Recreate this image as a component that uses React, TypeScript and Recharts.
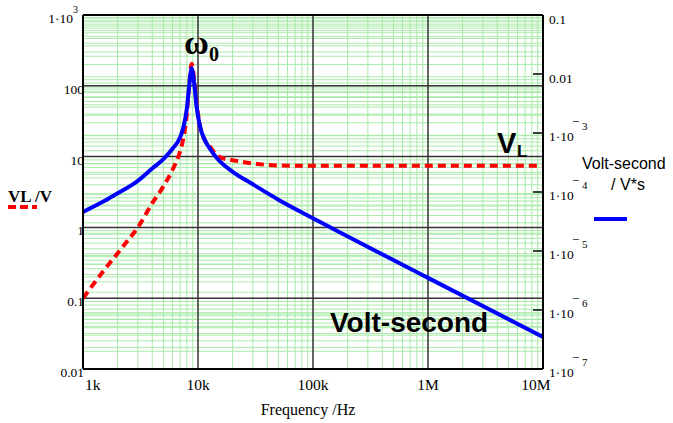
import React from 'react';
import { ComposedChart, Line, XAxis, YAxis, ReferenceLine } from 'recharts';

// frequency points (Hz)
const freqs = [
  1000, 1500, 2000, 2500, 3000, 4000, 5000, 6000, 7000, 7500, 8000, 8400, 8800, 9300, 9700, 10400, 11500,
  12700, 14500, 17000, 20000, 30000, 50000, 100000, 1000000, 10000000,
];
// VL / V (left axis)
const vlValues = [
  0.1, 0.24, 0.43, 0.68, 1.0, 2.2, 3.8, 6.5, 12, 19, 40, 105, 205, 115, 60, 27, 17,
  13.8, 10.5, 9.3, 8.9, 8.0, 7.5, 7.4, 7.4, 7.4,
];
// Volt-second / V*s (right axis)
const vsValues = [
  4.6e-5, 6.9e-5, 9.5e-5, 1.22e-4, 1.55e-4, 2.5e-4, 3.6e-4, 5.4e-4, 8.5e-4, 1.3e-3, 2.6e-3, 6.5e-3, 1.25e-2, 6.5e-3, 2.9e-3, 1.3e-3, 7.5e-4,
  5.4e-4, 3.8e-4, 2.8e-4, 2.2e-4, 1.35e-4, 7.4e-5, 3.6e-5, 3.5e-6, 3.5e-7,
];

const xTicks = [1e3, 1e4, 1e5, 1e6, 1e7];
const xTickLabels = ['1k', '10k', '100k', '1M', '10M'];
const leftTicks = [0.01, 0.1, 1, 10, 100, 1000];
const leftTickLabels = ['0.01', '0.1', '1', '10', '100', '1·10'];
const leftTickExp = ['', '', '', '', '', '3'];
const rightTicks = [1e-7, 1e-6, 1e-5, 1e-4, 1e-3, 0.01, 0.1];
const rightTickLabels = ['1·10', '1·10', '1·10', '1·10', '1·10', '0.01', '0.1'];
const rightTickExp = ['7', '6', '5', '4', '3', '', ''];
const minorSteps = [2, 3, 4, 5, 6, 7, 8, 9];

const data = freqs.map((f, i) => ({ f, vl: vlValues[i], vs: vsValues[i] }));

const minorsOf = (decades: number[]) =>
  decades.slice(0, -1).flatMap((d) => minorSteps.map((m) => d * m));

const xMinor = minorsOf(xTicks);
const leftMinor = minorsOf(leftTicks);
const rightMinor = minorsOf(rightTicks);

const SERIF = '"Liberation Serif", "Times New Roman", serif';
const SANS = '"Liberation Sans", Arial, sans-serif';
const GREEN = '#a9eaa9';
const DARK = '#333';

const W = 673;
const H = 423;

function renderXTick({ x, y, payload }: any) {
  const i = xTicks.indexOf(payload.value);
  const first = i === 0;
  const last = i === xTicks.length - 1;
  return (
    <text
      key={'xt' + i}
      x={first ? x + 2 : last ? x - 7 : x}
      y={y + 21}
      textAnchor={first ? 'start' : 'middle'}
      fontFamily={SERIF}
      fontSize={15.5}
      fill="#000"
    >
      {xTickLabels[i]}
    </text>
  );
}

function renderLeftTick({ x, y, payload }: any) {
  const i = leftTicks.indexOf(payload.value);
  const exp = leftTickExp[i];
  return (
    <g key={'lt' + i}>
      <text x={exp ? x - 10 : x + 1} y={y + 8} textAnchor="end" fontFamily={SERIF} fontSize={13.5} fill="#000">
        {leftTickLabels[i]}
      </text>
      {exp && (
        <text x={x - 10} y={y - 2} fontFamily={SERIF} fontSize={10} fill="#000">
          {exp}
        </text>
      )}
    </g>
  );
}

function renderRightTick({ x, y, payload }: any) {
  const i = rightTicks.indexOf(payload.value);
  const exp = rightTickExp[i];
  const inner = i > 0 && i < rightTicks.length - 1;
  return (
    <g key={'rt' + i}>
      {inner && <line x1={x - 10} x2={x} y1={y} y2={y} stroke="#000" strokeWidth={1.5} />}
      <text x={x + 6} y={y + (exp ? 8 : 9)} fontFamily={SERIF} fontSize={13.5} fill="#000">
        {rightTickLabels[i]}
      </text>
      {exp && (
        <>
          <text x={x + 29} y={y - 7} fontFamily={SERIF} fontSize={13} fill="#000">
            −
          </text>
          <text x={x + 39} y={y - 3} fontFamily={SERIF} fontSize={11} fill="#000">
            {exp}
          </text>
        </>
      )}
    </g>
  );
}

export default function App() {
  return (
    <div style={{ position: 'absolute', left: 0, top: 0, width: W, height: H }}>
      <ComposedChart width={W} height={H} data={data} margin={{ top: 15, right: 0, left: 0, bottom: 0 }}>
        <XAxis
          dataKey="f"
          type="number"
          scale="log"
          domain={[1000, 1e7]}
          ticks={xTicks}
          interval={0}
          allowDataOverflow
          axisLine={false}
          tickLine={false}
          tickSize={0}
          tickMargin={0}
          height={54}
          tick={renderXTick}
        />
        <YAxis
          yAxisId="left"
          type="number"
          scale="log"
          domain={[0.01, 1000]}
          ticks={leftTicks}
          interval={0}
          allowDataOverflow
          axisLine={false}
          tickLine={false}
          tickSize={0}
          tickMargin={0}
          width={83}
          tick={renderLeftTick}
        />
        <YAxis
          yAxisId="right"
          orientation="right"
          type="number"
          scale="log"
          domain={[1e-7, 0.1]}
          ticks={rightTicks}
          interval={0}
          allowDataOverflow
          axisLine={false}
          tickLine={false}
          tickSize={0}
          tickMargin={0}
          width={130}
          tick={renderRightTick}
        />

        {xMinor.map((v) => (
          <ReferenceLine key={'xm' + v} x={v} yAxisId="left" stroke={GREEN} strokeWidth={1} />
        ))}
        {leftMinor.map((v) => (
          <ReferenceLine key={'lm' + v} y={v} yAxisId="left" stroke={GREEN} strokeWidth={1} />
        ))}
        {rightMinor.map((v) => (
          <ReferenceLine key={'rm' + v} y={v} yAxisId="right" stroke={GREEN} strokeWidth={1} />
        ))}
        {xTicks.slice(1, -1).map((v) => (
          <ReferenceLine key={'xM' + v} x={v} yAxisId="left" stroke={DARK} strokeWidth={1.5} />
        ))}
        {leftTicks.slice(1, -1).map((v) => (
          <ReferenceLine key={'lM' + v} y={v} yAxisId="left" stroke={DARK} strokeWidth={1.5} />
        ))}

        <Line
          yAxisId="left"
          type="monotone"
          dataKey="vl"
          stroke="#ff0000"
          strokeWidth={4}
          strokeDasharray="8 5"
          dot={false}
          isAnimationActive={false}
        />
        <Line
          yAxisId="right"
          type="monotone"
          dataKey="vs"
          stroke="#0000ff"
          strokeWidth={4}
          dot={false}
          isAnimationActive={false}
        />

        <ReferenceLine x={1000} yAxisId="left" stroke="#000" strokeWidth={2} />
        <ReferenceLine x={1e7} yAxisId="left" stroke="#000" strokeWidth={2} />
        <ReferenceLine y={0.01} yAxisId="left" stroke="#000" strokeWidth={2} />
        <ReferenceLine y={1000} yAxisId="left" stroke="#000" strokeWidth={2} />
      </ComposedChart>

      <svg
        width={W}
        height={H}
        style={{ position: 'absolute', left: 0, top: 0, pointerEvents: 'none' }}
      >
        <text x={184} y={54} fontFamily={SERIF} fontWeight="bold" fontSize={34} fill="#000">
          ω
        </text>
        <text x={209} y={61} fontFamily={SERIF} fontWeight="bold" fontSize={20} fill="#000">
          0
        </text>
        <text x={497} y={153} fontFamily={SANS} fontWeight="bold" fontSize={29} fill="#000">
          V
        </text>
        <text x={517} y={157} fontFamily={SANS} fontWeight="bold" fontSize={17} fill="#000">
          L
        </text>
        <text x={330} y={332} fontFamily={SANS} fontWeight="bold" fontSize={28} fill="#000">
          Volt-second
        </text>

        <text x={8} y={202} fontFamily={SERIF} fontWeight="bold" fontSize={17} fill="#000">
          VL /V
        </text>
        <line x1={8} x2={37} y1={207} y2={207} stroke="#ff0000" strokeWidth={4} strokeDasharray="8 4" />

        <text x={582} y={169} fontFamily={SANS} fontSize={16} fill="#000">
          Volt-second
        </text>
        <text x={628} y={190} textAnchor="middle" fontFamily={SANS} fontSize={16} fill="#000">
          / V*s
        </text>
        <line x1={594} x2={627} y1={219} y2={219} stroke="#0000ff" strokeWidth={4} />

        <text x={308} y={415} textAnchor="middle" fontFamily={SERIF} fontSize={16} fill="#000">
          Frequency /Hz
        </text>
      </svg>
    </div>
  );
}
